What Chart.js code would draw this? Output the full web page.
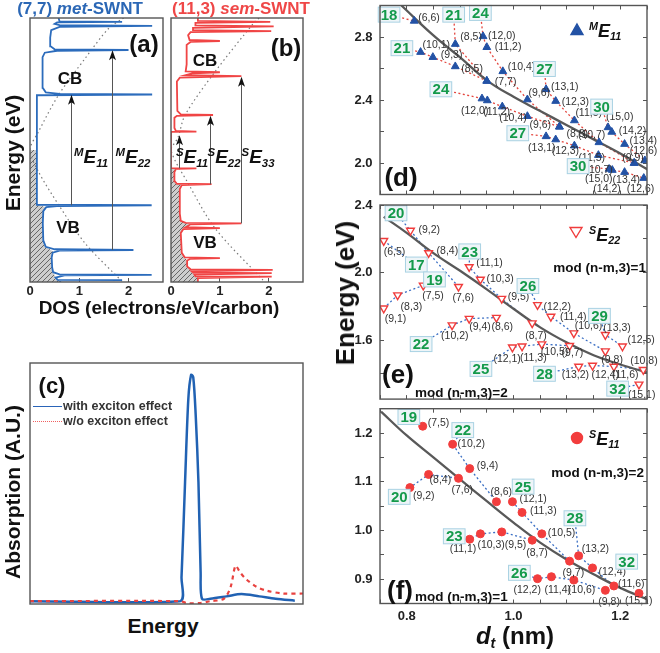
<!DOCTYPE html>
<html>
<head>
<meta charset="utf-8">
<title>SWNT DOS and Kataura plot</title>
<script src="https://cdn.jsdelivr.net/npm/chart.js@4.4.1/dist/chart.umd.min.js"></script>
<style>
  html, body { margin: 0; padding: 0; background: #fff; }
  body { width: 660px; height: 653px; position: relative; overflow: hidden;
         font-family: "Liberation Sans", Arial, sans-serif; }
  canvas { position: absolute; }
  .t { position: absolute; transform: translate(-50%, -50%); font-weight: bold;
       white-space: nowrap; line-height: 1; color: #111; }
  .l { transform: translate(0, -50%); }
  .r { transform: translate(-100%, -50%); }
  .v { transform: translate(-50%, -50%) rotate(-90deg); }
  .t sup { font-size: 0.6em; vertical-align: 0.6em; }
  .t sub { font-size: 0.6em; vertical-align: -0.3em; }
  .key { position: absolute; width: 29px; height: 0; }
</style>
</head>
<body>
<canvas id="ca"></canvas>
<canvas id="cb"></canvas>
<canvas id="cc"></canvas>
<canvas id="cd"></canvas>
<canvas id="ce"></canvas>
<canvas id="cf"></canvas>

<!-- left column texts -->
<div class="t" style="left:80px;top:8px;font-size:17px;color:#2b67b5">(7,7) <i>met</i>-SWNT</div>
<div class="t" style="left:241px;top:8px;font-size:17px;color:#ef4747">(11,3) <i>sem</i>-SWNT</div>
<div class="t" style="left:144px;top:44px;font-size:24px">(a)</div>
<div class="t" style="left:286px;top:48px;font-size:24px">(b)</div>
<div class="t" style="left:70px;top:78px;font-size:17px">CB</div>
<div class="t" style="left:68px;top:227px;font-size:17px">VB</div>
<div class="t" style="left:205px;top:60px;font-size:17px">CB</div>
<div class="t" style="left:205px;top:242px;font-size:17px">VB</div>
<div class="t" style="left:91px;top:158px;font-size:19px"><i><sup>M</sup>E<sub>11</sub></i></div>
<div class="t" style="left:133px;top:158px;font-size:19px"><i><sup>M</sup>E<sub>22</sub></i></div>
<div class="t" style="left:192px;top:158px;font-size:19px"><i><sup>S</sup>E<sub>11</sub></i></div>
<div class="t" style="left:224px;top:158px;font-size:19px"><i><sup>S</sup>E<sub>22</sub></i></div>
<div class="t" style="left:258px;top:158px;font-size:19px"><i><sup>S</sup>E<sub>33</sub></i></div>
<div class="t" style="left:159px;top:307px;font-size:19px">DOS (electrons/eV/carbon)</div>
<div class="t v" style="left:12px;top:153px;font-size:21px">Energy (eV)</div>

<div class="t" style="left:52px;top:386px;font-size:22px">(c)</div>
<div class="key" style="left:33px;top:406px;border-top:1.3px solid #2a64b8"></div>
<div class="key" style="left:33px;top:421px;border-top:1.3px dotted #f06060"></div>
<div class="t l" style="left:63px;top:406px;font-size:12.5px;color:#333">with exciton effect</div>
<div class="t l" style="left:63px;top:421px;font-size:12.5px;color:#333">w/o exciton effect</div>
<div class="t v" style="left:12px;top:492px;font-size:21px">Absorption (A.U.)</div>
<div class="t" style="left:163px;top:625px;font-size:21px">Energy</div>

<!-- right column texts -->
<div class="t v" style="left:345px;top:293px;font-size:26px">Energy (eV)</div>
<div class="t" style="left:515px;top:637px;font-size:24px"><i>d<sub>t</sub></i> (nm)</div>
<div class="t l" style="left:589px;top:32px;font-size:18px"><i><sup>M</sup>E<sub>11</sub></i></div>
<div class="t l" style="left:589px;top:236px;font-size:18px"><i><sup>S</sup>E<sub>22</sub></i></div>
<div class="t l" style="left:589px;top:440px;font-size:18px"><i><sup>S</sup>E<sub>11</sub></i></div>
<div class="t r" style="left:646px;top:268px;font-size:13.5px">mod (n-m,3)=1</div>
<div class="t l" style="left:415px;top:393px;font-size:13.5px">mod (n-m,3)=2</div>
<div class="t r" style="left:644px;top:473px;font-size:13.5px">mod (n-m,3)=2</div>
<div class="t l" style="left:415px;top:597px;font-size:13.5px">mod (n-m,3)=1</div>
<div class="t" style="left:401px;top:177px;font-size:26px">(d)</div>
<div class="t" style="left:398px;top:374px;font-size:26px">(e)</div>
<div class="t" style="left:400px;top:590px;font-size:26px">(f)</div>

<script>
// ---------------- data ----------------

// (a) (7,7) metallic tube: DOS [states, energy]
var metDos = [
  [0.62,-2.70],[0.60,-2.665],[1.87,-2.66],[0.56,-2.655],[0.52,-2.61],[0.70,-2.565],[2.47,-2.555],[0.60,-2.545],
  [0.47,-2.50],[0.45,-2.40],[0.44,-2.20],[0.46,-2.10],[0.60,-2.06],[2.10,-2.045],[0.50,-2.03],[0.32,-1.98],
  [0.27,-1.85],[0.26,-1.50],[0.27,-1.25],[0.33,-1.17],[0.60,-1.145],[2.47,-1.13],[0.14,-1.12],
  [0.14,1.12],[2.48,1.135],[0.60,1.15],[0.32,1.18],[0.26,1.27],[0.25,1.60],[0.26,1.90],[0.30,1.99],
  [0.55,2.03],[2.00,2.045],[0.50,2.06],[0.42,2.12],[0.41,2.30],[0.43,2.45],[0.60,2.52],[2.48,2.54],
  [0.60,2.555],[0.50,2.58],[0.55,2.61],[1.87,2.62],[0.60,2.63],[0.58,2.70]
];
var metFilled = [
  [0,0],[0.14,0],[0.14,-1.12],[0.33,-1.17],[0.27,-1.25],[0.26,-1.50],[0.27,-1.85],[0.32,-1.98],[0.46,-2.07],
  [0.44,-2.20],[0.45,-2.40],[0.47,-2.50],[0.52,-2.61],[0.62,-2.70],[0,-2.70]
];
var metCone = [[1.90,2.70],[1.60,2.49],[1.12,1.875],[0.58,1.125],[0.17,0.37],[0,0],[0.17,-0.44],[0.58,-1.12],[1.12,-1.91],[1.87,-2.69]];
var metArrows = [[0.84,-1.13,1.13],[1.67,-2.045,2.04]];

// (b) (11,3) semiconducting tube
var semDos = [
  [0.55,-2.70],[0.55,-2.62],[2.06,-2.59],[0.50,-2.585],[0.48,-2.55],[2.06,-2.52],[0.45,-2.51],[0.42,-2.48],
  [2.08,-2.45],[0.40,-2.44],[0.33,-2.38],[0.33,-2.26],[0.40,-2.225],[1.00,-2.21],[0.28,-2.195],[0.22,-2.10],
  [0.20,-1.70],[0.25,-1.62],[1.00,-1.60],[0.30,-1.58],[0.40,-1.52],[1.44,-1.50],[0.30,-1.49],[0.20,-1.45],
  [0.18,-1.30],[0.18,-0.80],[0.22,-0.72],[0.83,-0.70],[0.12,-0.69],[0.08,-0.64],[0.07,-0.45],[0.10,-0.39],
  [0.52,-0.374],[0,-0.37],
  [0,0.37],[0.52,0.374],[0.10,0.39],[0.07,0.45],[0.07,0.66],[0.12,0.70],[0.86,0.716],[0.20,0.73],[0.13,0.80],
  [0.12,1.40],[0.18,1.48],[1.44,1.513],[0.30,1.53],[0.45,1.57],[1.00,1.59],[0.30,1.61],[0.32,1.75],[0.32,2.15],
  [0.40,2.21],[1.00,2.23],[0.38,2.25],[0.35,2.35],[0.40,2.41],[2.05,2.43],[0.45,2.45],[0.45,2.50],[2.10,2.53],
  [0.50,2.55],[0.50,2.60],[2.03,2.62],[0.55,2.64],[0.55,2.70]
];
var semFilled = [
  [0,-0.37],[0.10,-0.39],[0.07,-0.45],[0.08,-0.64],[0.12,-0.69],[0.22,-0.72],[0.18,-0.80],[0.18,-1.30],
  [0.20,-1.45],[0.30,-1.49],[0.40,-1.52],[0.25,-1.62],[0.20,-1.70],[0.22,-2.10],[0.28,-2.195],[0.33,-2.26],
  [0.33,-2.38],[0.40,-2.44],[0.45,-2.51],[0.50,-2.585],[0.55,-2.62],[0.55,-2.70],[0,-2.70]
];
var semCone = [[1.80,2.70],[1.71,2.62],[0.90,1.60],[0.29,0.72],[0.14,0.25],[0,0],[0.35,-0.68],[0.90,-1.60],[1.88,-2.66]];
var semArrows = [[0.16,-0.374,0.30],[0.80,-0.70,0.70],[1.43,-1.50,1.50]];
var dosTicks = [0, 1, 2];

// (c) absorption, arbitrary units
var absWith = [
  [0,0],[5.49,0],[5.55,0.10],[5.68,0.50],[5.80,0.85],[5.90,0.95],[5.98,0.94],[6.07,0.78],[6.17,0.50],
  [6.25,0.12],[6.30,0.01],[6.60,0.01],[7.20,0.02],[7.75,0.03],[8.40,0.02],[9.00,0.01],[9.70,0.002]
];
var absWithout = [
  [0,0],[5.50,0],[5.75,-0.008],[6.20,-0.008],[6.60,0],[7.10,0.01],[7.35,0.06],[7.53,0.148],[7.70,0.12],
  [7.94,0.09],[8.30,0.06],[8.67,0.044],[9.27,0.032],[10,0.032]
];

// (d) metallic ME11: [tube, diameter nm, energy eV], upper (U) and lower (L) branches
var me18  = [['(6,6)',0.814,2.902]];
var me21U = [['(8,5)',0.891,2.755],['(7,7)',0.950,2.521]];
var me21L = [['(10,1)',0.826,2.704],['(9,3)',0.849,2.672],['(8,5)',0.891,2.613],['(7,7)',0.950,2.521]];
var me24U = [['(12,0)',0.943,2.804],['(11,2)',0.950,2.735],['(10,4)',0.980,2.582],['(9,6)',1.026,2.403],['(8,8)',1.086,2.230]];
var me24L = [['(12,0)',0.941,2.409],['(11,2)',0.951,2.397],['(10,4)',0.979,2.358],['(9,6)',1.026,2.297],['(8,8)',1.086,2.230]];
var me27U = [['(13,1)',1.061,2.468],['(12,3)',1.079,2.393],['(11,5)',1.114,2.270],['(10,7)',1.160,2.131],['(9,9)',1.226,2.000]];
var me27L = [['(13,1)',1.061,2.169],['(12,3)',1.079,2.149],['(11,5)',1.114,2.110],['(10,7)',1.159,2.050],['(9,9)',1.226,2.000]];
var me30U = [['(15,0)',1.177,2.226],['(14,2)',1.184,2.197],['(13,4)',1.208,2.120],['(12,6)',1.246,2.016]];
var me30L = [['(15,0)',1.179,1.962],['(14,2)',1.185,1.955],['(13,4)',1.208,1.942],['(12,6)',1.244,1.904]];
var meTrend = [[0.79,3.00],[0.85,2.81],[0.90,2.67],[0.95,2.525],[1.00,2.42],[1.05,2.33],[1.10,2.24],[1.15,2.15],[1.20,2.06],[1.253,1.955]];

// (e) semiconducting SE22
var se17 = [['(6,5)',0.757,2.188]];
var se20 = [['(9,2)',0.807,2.249],['(8,4)',0.841,2.116],['(7,6)',0.897,1.916]];
var se23 = [['(11,1)',0.917,2.033],['(10,3)',0.938,1.959],['(9,5)',0.978,1.845],['(8,7)',1.035,1.700]];
var se26 = [['(12,2)',1.045,1.808],['(11,4)',1.070,1.739],['(10,6)',1.113,1.641],['(9,8)',1.172,1.534]];
var se29 = [['(13,3)',1.172,1.631],['(12,5)',1.204,1.563]];
var se19 = [['(9,1)',0.757,1.788],['(8,3)',0.783,1.866],['(7,5)',0.831,1.924]];
var se22 = [['(10,2)',0.885,1.688],['(9,4)',0.917,1.727],['(8,6)',0.968,1.733]];
var se25 = [['(12,1)',0.998,1.557],['(11,3)',1.016,1.563],['(10,5)',1.053,1.576],['(9,7)',1.105,1.566]];
var se28 = [['(13,2)',1.122,1.443],['(12,4)',1.148,1.449],['(11,6)',1.188,1.443],['(10,8)',1.243,1.424]];
var se32 = [['(15,1)',1.235,1.337]];
var seTrend = [[0.757,2.33],[0.80,2.235],[0.85,2.115],[0.90,2.01],[0.95,1.90],[1.00,1.785],[1.05,1.675],[1.10,1.585],[1.15,1.51],[1.20,1.455],[1.254,1.404]];

// (f) semiconducting SE11
var s19 = [['(7,5)',0.830,1.214]];
var s22 = [['(10,2)',0.886,1.177],['(9,4)',0.918,1.127],['(8,6)',0.968,1.059]];
var s25 = [['(12,1)',0.998,1.059],['(11,3)',1.016,1.037],['(10,5)',1.053,0.993],['(9,7)',1.105,0.937]];
var s28 = [['(13,2)',1.122,0.948],['(12,4)',1.148,0.923],['(11,6)',1.188,0.886]];
var s31 = [['(15,1)',1.235,0.871]];
var s20 = [['(9,2)',0.806,1.088],['(8,4)',0.841,1.115],['(7,6)',0.897,1.107]];
var s23 = [['(11,1)',0.918,0.982],['(10,3)',0.938,0.993],['(9,5)',0.978,0.997],['(8,7)',1.035,0.980]];
var s26 = [['(12,2)',1.045,0.901],['(11,4)',1.071,0.905],['(10,6)',1.113,0.898],['(9,8)',1.172,0.877]];
var sTrend = [[0.752,1.244],[0.80,1.195],[0.85,1.15],[0.90,1.105],[0.95,1.06],[1.00,1.016],[1.05,0.975],[1.10,0.94],[1.15,0.91],[1.20,0.882],[1.254,0.857]];

var diamTicks = [0.75,0.8,0.85,0.9,0.95,1.0,1.05,1.1,1.15,1.2,1.25];
var diamLabels = [0.8,1.0,1.2];
var meTicks = [1.8,2.0,2.2,2.4,2.6,2.8,3.0], meLabels = [2.0,2.4,2.8];
var seTicks = [1.4,1.6,1.8,2.0,2.2,2.4], seLabels = [1.6,2.0,2.4];
var sTicks = [0.85,0.9,0.95,1.0,1.05,1.1,1.15,1.2,1.25], sLabels = [0.9,1.0,1.1,1.2];

// ---------------- layout of the annotations ----------------
// family number boxes: text, d, E, family, link (1 = line starts at box, 2 = ends at box, 0 = none)
var meTags = [['18',0.767,2.942,'18',1],['21',0.888,2.942,'21U',1],['24',0.938,2.953,'24U',1],['21',0.791,2.729,'21L',1],
  ['27',1.058,2.597,'27U',1],['24',0.864,2.468,'24L',1],['30',1.165,2.358,'30U',1],['27',1.008,2.189,'27L',1],['30',1.121,1.980,'30L',1]];
var seTags = [['20',0.780,2.351,'20',1],['17',0.818,2.047,'17',2],['23',0.918,2.125,'23',1],['19',0.852,1.959,'19',2],
  ['26',1.027,1.920,'26',1],['22',0.827,1.576,'22',1],['29',1.161,1.743,'29',1],['25',0.939,1.429,'25',1],
  ['28',1.058,1.400,'28',1],['32',1.195,1.312,'32',2]];
var sTags = [['19',0.804,1.233,'19',1],['22',0.905,1.206,'22',1],['20',0.786,1.069,'20',1],['25',1.018,1.090,'25',0],
  ['28',1.115,1.025,'28',1],['23',0.889,0.988,'23',1],['32',1.212,0.936,null,0],['26',1.011,0.913,'26',1]];

// tube label offsets in px from the marker
var meOff = {
  '18(6,6)':[4,-3], '21U(8,5)':[5,-7],
  '21L(10,1)':[2,-7], '21L(9,3)':[8,-2], '21L(8,5)':[6,3], '21L(7,7)':[8,1],
  '24U(12,0)':[5,0], '24U(11,2)':[8,0], '24U(10,4)':[5,-4], '24U(9,6)':[1,-6], '24U(8,8)':[7,7],
  '24L(12,0)':[-21,13], '24L(11,2)':[-4,12], '24L(10,4)':[-3,11], '24L(9,6)':[2,9],
  '27U(13,1)':[5,-2], '27U(12,3)':[6,1], '27U(11,5)':[1,-7], '27U(10,7)':[-21,-7], '27U(9,9)':[-12,-5],
  '27L(13,1)':[-18,12], '27L(12,3)':[-4,12], '27L(11,5)':[4,12], '27L(10,7)':[-13,15],
  '30U(15,0)':[-2,-10], '30U(14,2)':[7,-1], '30U(13,4)':[5,-3], '30U(12,6)':[-15,-9],
  '30L(15,0)':[-24,10], '30L(14,2)':[-19,19], '30L(13,4)':[-12,8], '30L(12,6)':[-17,11]
};
var seOff = {
  '17(6,5)':[0,11],
  '20(9,2)':[8,0], '20(8,4)':[8,-2], '20(7,6)':[-6,11],
  '23(11,1)':[7,-4], '23(10,3)':[6,0], '23(9,5)':[6,-2], '23(8,7)':[-7,13],
  '26(12,2)':[6,2], '26(11,4)':[9,1], '26(10,6)':[1,-7], '26(9,8)':[-4,9],
  '29(13,3)':[-2,-7], '29(12,5)':[5,-6],
  '19(9,1)':[1,11], '19(8,3)':[3,12], '19(7,5)':[-1,11],
  '22(10,2)':[-11,11], '22(9,4)':[0,9], '22(8,6)':[-5,10],
  '25(12,1)':[-19,12], '25(11,3)':[-2,12], '25(10,5)':[-1,8], '25(9,7)':[-8,7],
  '28(13,2)':[-17,9], '28(12,4)':[-1,10], '28(11,6)':[-2,9], '28(10,8)':[-13,-9],
  '32(15,1)':[-11,11]
};
var sOff = {
  '19(7,5)':[5,-3],
  '22(10,2)':[5,0], '22(9,4)':[7,-2], '22(8,6)':[-6,-10],
  '25(12,1)':[7,-3], '25(11,3)':[8,-1], '25(10,5)':[6,-1], '25(9,7)':[-7,12],
  '28(13,2)':[3,-7], '28(12,4)':[6,4], '28(11,6)':[4,-2], '31(15,1)':[-14,8],
  '20(9,2)':[3,9], '20(8,4)':[1,6], '20(7,6)':[-7,12],
  '23(11,1)':[-20,10], '23(10,3)':[-3,11], '23(9,5)':[3,13], '23(8,7)':[-6,13],
  '26(12,2)':[-24,11], '26(11,4)':[-7,13], '26(10,6)':[-6,10], '26(9,8)':[-7,12]
};

// ---------------- helpers ----------------
var FONT = '"Liberation Sans", Arial, sans-serif';

function pts(arr) { return arr.map(function (p) { return {x: p[0], y: p[1]}; }); }
function tubePts(arr) { return arr.map(function (t) { return {x: t[1], y: t[2]}; }); }

function place(id, rect, area) {
  var c = document.getElementById(id);
  c.width = rect[2]; c.height = rect[3];
  c.style.left = rect[0] + 'px'; c.style.top = rect[1] + 'px';
  return {left: area[0] - rect[0], top: area[1] - rect[1],
          right: rect[0] + rect[2] - area[2], bottom: rect[1] + rect[3] - area[3],
          ox: rect[0], oy: rect[1]};
}
function fixed(size) {
  return function (s) {
    if (s.isHorizontal()) s.height = size; else s.width = size;
    s.paddingLeft = s.paddingRight = s.paddingTop = s.paddingBottom = 0;
  };
}
function fixedTicks(vals) {
  return function (s) { s.ticks = vals.map(function (v) { return {value: v}; }); };
}
function labelIf(list) {
  return function (v) {
    return list.some(function (l) { return Math.abs(l - v) < 1e-6; }) ? v.toFixed(1) : '';
  };
}
function hatchPattern() {
  var t = document.createElement('canvas'); t.width = 5; t.height = 5;
  var g = t.getContext('2d');
  g.fillStyle = '#cdcdcd'; g.fillRect(0, 0, 5, 5);
  g.strokeStyle = '#666'; g.lineWidth = 1;
  g.beginPath(); g.moveTo(0, 5); g.lineTo(5, 0); g.moveTo(-1, 1); g.lineTo(1, -1); g.moveTo(4, 6); g.lineTo(6, 4); g.stroke();
  return g.createPattern(t, 'repeat');
}

// frame around the plot area
Chart.register({
  id: 'frame',
  afterDraw: function (chart) {
    var c = chart.chartArea, ctx = chart.ctx;
    ctx.save(); ctx.strokeStyle = '#555'; ctx.lineWidth = 1.4;
    ctx.strokeRect(c.left, c.top, c.right - c.left, c.bottom - c.top);
    ctx.restore();
  }
});
// vertical transition arrows in the DOS panels
Chart.register({
  id: 'arrows',
  afterDatasetsDraw: function (chart, args, o) {
    if (!o.list) return;
    var ctx = chart.ctx, x = chart.scales.x, y = chart.scales.y;
    o.list.forEach(function (a) {
      var px = Math.round(x.getPixelForValue(a[0])) + 0.5, y0 = y.getPixelForValue(a[1]), y1 = y.getPixelForValue(a[2]);
      ctx.save();
      ctx.strokeStyle = '#555'; ctx.lineWidth = 1;
      ctx.beginPath(); ctx.moveTo(px, y0); ctx.lineTo(px, y1 + 6); ctx.stroke();
      ctx.fillStyle = '#111';
      ctx.beginPath(); ctx.moveTo(px, y1); ctx.lineTo(px - 3.5, y1 + 10); ctx.lineTo(px, y1 + 7.5); ctx.lineTo(px + 3.5, y1 + 10);
      ctx.closePath(); ctx.fill();
      ctx.restore();
    });
  }
});
// (n,m) labels next to markers, then the family number boxes
Chart.register({
  id: 'tubeText',
  afterDatasetsDraw: function (chart, args, o) {
    var ctx = chart.ctx;
    ctx.save();
    ctx.font = '10.5px ' + FONT; ctx.fillStyle = '#333'; ctx.textAlign = 'left'; ctx.textBaseline = 'middle';
    chart.data.datasets.forEach(function (ds, i) {
      if (!ds.tubes) return;
      var meta = chart.getDatasetMeta(i);
      ds.tubes.forEach(function (name, j) {
        var off = ds.offsets[j];
        if (!off) return;
        ctx.fillText(name, meta.data[j].x + off[0], meta.data[j].y + off[1]);
      });
    });
    if (o.tags) {
      var x = chart.scales.x, y = chart.scales.y;
      ctx.font = 'bold 15px ' + FONT; ctx.textAlign = 'center';
      o.tags.forEach(function (t) {
        var px = x.getPixelForValue(t[1]), py = y.getPixelForValue(t[2]);
        var w = ctx.measureText(t[0]).width + 5, h = 15;
        ctx.fillStyle = '#eef5f8'; ctx.fillRect(px - w / 2, py - h / 2, w, h);
        ctx.strokeStyle = '#a9d2e3'; ctx.lineWidth = 1; ctx.strokeRect(px - w / 2, py - h / 2, w, h);
        ctx.fillStyle = '#149a4b'; ctx.fillText(t[0], px, py + 1);
      });
    }
    if (o.mark) {
      var m = o.mark;
      ctx.fillStyle = m.fill; ctx.strokeStyle = m.stroke; ctx.lineWidth = 1.4;
      ctx.beginPath();
      if (m.style === 'circle') ctx.arc(m.x, m.y, 5.5, 0, Math.PI * 2);
      else if (m.style === 'up') { ctx.moveTo(m.x, m.y - 6); ctx.lineTo(m.x + 6, m.y + 4.5); ctx.lineTo(m.x - 6, m.y + 4.5); ctx.closePath(); }
      else { ctx.moveTo(m.x, m.y + 5.5); ctx.lineTo(m.x + 6, m.y - 4.5); ctx.lineTo(m.x - 6, m.y - 4.5); ctx.closePath(); }
      ctx.fill(); ctx.stroke();
    }
    ctx.restore();
  }
});

var tickFont = {family: FONT, size: 13, weight: 'bold'};
var tickGrid = {drawOnChartArea: false, tickLength: -4, color: '#555', lineWidth: 1};
var base = {responsive: false, animation: false, events: []};

function opts(g, extra) {
  return Object.assign({}, base, {
    layout: {padding: {left: 0, top: g.top, right: g.right, bottom: 0}},
    plugins: Object.assign({legend: {display: false}, tooltip: {enabled: false}}, extra.plugins || {}),
    scales: extra.scales
  });
}

// ---------------- (a), (b) DOS panels ----------------
function dosChart(id, rect, area, color, dos, filled, cone, arrows) {
  var g = place(id, rect, area);
  var o = opts(g, {
    plugins: {arrows: {list: arrows}},
    scales: {
      x: {type: 'linear', min: 0, max: 2.7, afterFit: fixed(g.bottom), afterBuildTicks: fixedTicks(dosTicks),
          ticks: {font: tickFont, color: '#222', padding: 5.5, autoSkip: false, maxRotation: 0,
                  callback: function (v) { return String(v); }},
          grid: tickGrid, border: {display: false}},
      y: {type: 'linear', min: -2.7, max: 2.7, display: false}
    }
  });
  o.layout.padding.left = g.left;
  return new Chart(document.getElementById(id), {
    type: 'line',
    data: {datasets: [
      {data: pts(filled), fill: 'shape', backgroundColor: hatchPattern(), borderColor: 'rgba(0,0,0,0)', borderWidth: 0, pointRadius: 0, order: 3},
      {data: pts(cone), borderColor: '#7a7a7a', borderWidth: 1.2, borderDash: [1.5, 3], pointRadius: 0, tension: 0.3, order: 2},
      {data: pts(dos), borderColor: color, borderWidth: 1.8, pointRadius: 0, order: 1}
    ]},
    options: o
  });
}
dosChart('ca', [0, 14, 166, 290], [30, 18, 163, 282], '#2c6cbc', metDos, metFilled, metCone, metArrows);
dosChart('cb', [166, 14, 140, 290], [171, 18, 303, 282], '#f04545', semDos, semFilled, semCone, semArrows);

// ---------------- (c) absorption ----------------
(function () {
  var g = place('cc', [0, 355, 310, 255], [30, 363, 303, 604]);
  var o = opts(g, {scales: {
    x: {type: 'linear', min: 0, max: 10, display: false},
    y: {type: 'linear', min: -0.012, max: 1.0, display: false}
  }});
  o.layout.padding.left = g.left; o.layout.padding.bottom = g.bottom;
  new Chart(document.getElementById('cc'), {
    type: 'line',
    data: {datasets: [
      {data: pts(absWithout), borderColor: '#e8423f', borderWidth: 2.2, borderDash: [4, 4], pointRadius: 0, tension: 0.3, order: 1},
      {data: pts(absWith), borderColor: '#2162b3', borderWidth: 2.5, pointRadius: 0, tension: 0.3, order: 2}
    ]},
    options: o
  });
})();

// ---------------- (d), (e), (f) diameter panels ----------------
function kataura(id, rect, area, c) {
  var g = place(id, rect, area);
  var datasets = [];
  c.families.forEach(function (f) {
    var key = f[0], tubes = f[1];
    var tag = c.tags.filter(function (t) { return t[3] === key; })[0];
    var line = tubePts(tubes);
    if (tag && tag[4] === 1) line = [{x: tag[1], y: tag[2]}].concat(line);
    if (tag && tag[4] === 2) line = line.concat([{x: tag[1], y: tag[2]}]);
    datasets.push({data: line, borderColor: c.lineColor, borderWidth: 1.3, borderDash: [2, 2.5], pointRadius: 0, order: 3});
    datasets.push(Object.assign({
      data: tubePts(tubes), showLine: false, order: 1,
      tubes: tubes.map(function (t) { return t[0]; }),
      offsets: tubes.map(function (t) { return c.offsets[key + t[0]]; })
    }, c.marker));
  });
  datasets.push({data: pts(c.trend), borderColor: '#595959', borderWidth: 2.3, pointRadius: 0, tension: 0.4, order: 2});

  var mark = Object.assign({}, c.mark, {x: c.mark.x - g.ox, y: c.mark.y - g.oy});
  var o = opts(g, {
    plugins: {tubeText: {tags: c.tags, mark: mark}},
    scales: {
      x: {type: 'linear', min: 0.75, max: 1.25, position: 'bottom', afterFit: fixed(g.bottom), afterBuildTicks: fixedTicks(diamTicks),
          ticks: {display: c.showX, font: tickFont, color: '#222', padding: 9, autoSkip: false, maxRotation: 0, callback: labelIf(diamLabels)},
          grid: tickGrid, border: {display: false}},
      xTop: {type: 'linear', min: 0.75, max: 1.25, position: 'top', afterFit: fixed(0), afterBuildTicks: fixedTicks(diamTicks),
             ticks: {display: false}, grid: tickGrid, border: {display: false}},
      y: {type: 'linear', min: c.yMin, max: c.yMax, position: 'left', afterFit: fixed(g.left), afterBuildTicks: fixedTicks(c.yTicks),
          ticks: {font: tickFont, color: '#222', padding: 11.5, autoSkip: false, callback: labelIf(c.yLabels)},
          grid: tickGrid, border: {display: false}},
      yRight: {type: 'linear', min: c.yMin, max: c.yMax, position: 'right', afterFit: fixed(0), afterBuildTicks: fixedTicks(c.yTicks),
               ticks: {display: false}, grid: tickGrid, border: {display: false}}
    }
  });
  return new Chart(document.getElementById(id), {type: 'line', data: {datasets: datasets}, options: o});
}

kataura('cd', [330, 0, 330, 200], [380, 2.25, 647, 198.75], {
  yMin: 1.8, yMax: 3.0, yTicks: meTicks, yLabels: meLabels, showX: false,
  families: [['18', me18], ['21U', me21U], ['21L', me21L], ['24U', me24U], ['24L', me24L],
             ['27U', me27U], ['27L', me27L], ['30U', me30U], ['30L', me30L]],
  tags: meTags, offsets: meOff, trend: meTrend, lineColor: '#e4473f',
  marker: {pointStyle: 'triangle', pointRadius: 4.5, backgroundColor: '#2352a5', borderColor: '#2352a5', borderWidth: 1},
  mark: {x: 577, y: 30, style: 'up', fill: '#2352a5', stroke: '#2352a5'}
});
kataura('ce', [330, 196, 330, 209], [380, 205, 647, 400.5], {
  yMin: 1.25, yMax: 2.4, yTicks: seTicks, yLabels: seLabels, showX: false,
  families: [['17', se17], ['20', se20], ['23', se23], ['26', se26], ['29', se29],
             ['19', se19], ['22', se22], ['25', se25], ['28', se28], ['32', se32]],
  tags: seTags, offsets: seOff, trend: seTrend, lineColor: '#3b6fc4',
  marker: {pointStyle: 'triangle', rotation: 180, pointRadius: 4.5, backgroundColor: '#fff', borderColor: '#f03c3c', borderWidth: 1.4},
  mark: {x: 576, y: 232, style: 'down', fill: '#fff', stroke: '#f03c3c'}
});
kataura('cf', [330, 400, 330, 230], [380, 408.7, 647, 603.5], {
  yMin: 0.85, yMax: 1.25, yTicks: sTicks, yLabels: sLabels, showX: true,
  families: [['19', s19], ['22', s22], ['25', s25], ['28', s28], ['31', s31],
             ['20', s20], ['23', s23], ['26', s26]],
  tags: sTags, offsets: sOff, trend: sTrend, lineColor: '#3b6fc4',
  marker: {pointStyle: 'circle', pointRadius: 4, backgroundColor: '#f23d3d', borderColor: '#f23d3d', borderWidth: 1},
  mark: {x: 577, y: 438, style: 'circle', fill: '#f23d3d', stroke: '#f23d3d'}
});
</script>
</body>
</html>
